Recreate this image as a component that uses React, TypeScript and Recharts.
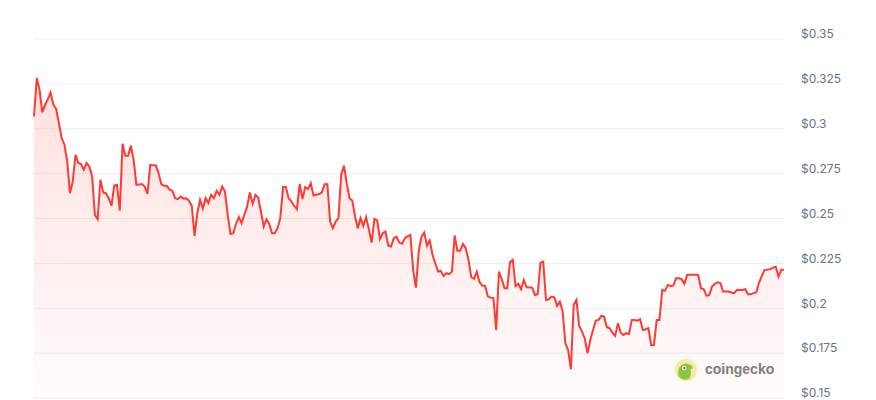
import { AreaChart, Area, XAxis, YAxis, CartesianGrid } from "recharts";

// daily closing price left to right
const prices = [
  0.3068, 0.3283, 0.3217, 0.3091, 0.3134, 0.3165, 0.3202, 0.3134, 0.3110, 0.3032,
  0.2948, 0.2911, 0.2818, 0.2641, 0.2706, 0.2855, 0.2809, 0.2803, 0.2771, 0.2809,
  0.2790, 0.2734, 0.2520, 0.2496, 0.2716, 0.2645, 0.2641, 0.2613, 0.2571, 0.2684,
  0.2688, 0.2544, 0.2916, 0.2849, 0.2849, 0.2905, 0.2827, 0.2688, 0.2690, 0.2692,
  0.2678, 0.2637, 0.2799, 0.2796, 0.2795,
  0.2753, 0.2691, 0.2682, 0.2682, 0.2660, 0.2654, 0.2613, 0.2608, 0.2622, 0.2610,
  0.2613, 0.2600, 0.2571, 0.2403, 0.2530, 0.2604, 0.2555, 0.2613, 0.2586, 0.2632,
  0.2613, 0.2654, 0.2632, 0.2678, 0.2650, 0.2520, 0.2414, 0.2418, 0.2469, 0.2508,
  0.2474, 0.2520, 0.2567, 0.2645, 0.2582, 0.2632, 0.2617, 0.2539, 0.2455, 0.2496,
  0.2470, 0.2418, 0.2418, 0.2446, 0.2502, 0.2675, 0.2675,
  0.2613, 0.2595, 0.2571, 0.2552, 0.2693, 0.2608, 0.2675, 0.2664, 0.2697, 0.2628,
  0.2632, 0.2636, 0.2645, 0.2691, 0.2691, 0.2483, 0.2446, 0.2483, 0.2502, 0.2743,
  0.2794, 0.2697, 0.2613, 0.2600, 0.2511, 0.2446, 0.2502, 0.2459, 0.2508, 0.2441,
  0.2366, 0.2498, 0.2489, 0.2385, 0.2418, 0.2427, 0.2348, 0.2344, 0.2390, 0.2399,
  0.2366, 0.2359,
  0.2390, 0.2400, 0.2409, 0.2214, 0.2115, 0.2316, 0.2399, 0.2422, 0.2348, 0.2377,
  0.2297, 0.2251, 0.2204, 0.2208, 0.2180, 0.2195, 0.2190, 0.2204, 0.2405, 0.2321,
  0.2321, 0.2359, 0.2335, 0.2269, 0.2173, 0.2164, 0.2204, 0.2145, 0.2126, 0.2124,
  0.2065, 0.2059, 0.2056, 0.1879, 0.2204, 0.2162, 0.2112, 0.2112, 0.2257, 0.2269,
  0.2124, 0.2136,
  0.2106, 0.2158, 0.2117, 0.2116, 0.2115, 0.2074, 0.2078, 0.2254, 0.2260, 0.2046,
  0.2050, 0.2065, 0.2061, 0.2013, 0.2037, 0.1985, 0.1805, 0.1768, 0.1660, 0.2019,
  0.2046, 0.1901, 0.1870, 0.1833, 0.1749, 0.1823, 0.1879, 0.1931, 0.1935, 0.1957,
  0.1953, 0.1894, 0.1889, 0.1864, 0.1846, 0.1916, 0.1864, 0.1851, 0.1861, 0.1857,
  0.1935, 0.1935, 0.1931, 0.1939, 0.1879, 0.1883, 0.1889, 0.1795, 0.1794, 0.1935,
  0.1935, 0.2102, 0.2097, 0.2130, 0.2124, 0.2126, 0.2167, 0.2167, 0.2162, 0.2136,
  0.2186, 0.2187, 0.2187, 0.2187, 0.2186, 0.2112, 0.2106, 0.2069, 0.2074, 0.2121,
  0.2136, 0.2145, 0.2140, 0.2093, 0.2093, 0.2093, 0.2088, 0.2084, 0.2102, 0.2102,
  0.2102, 0.2106, 0.2078, 0.2078, 0.2084, 0.2089, 0.2143, 0.2180, 0.2214, 0.2215,
  0.2218, 0.2225, 0.2232, 0.2176, 0.2214, 0.2214,
];

const priceTicks = [0.15, 0.175, 0.2, 0.225, 0.25, 0.275, 0.3, 0.325, 0.35];

const RED = "#ff3a33";

const chartData = prices.map((price, day) => ({ day, price }));

const PriceTick = ({ x, y, payload }: { x: number; y: number; payload: { value: number } }) => (
  <text
    x={x}
    y={y - 5}
    dy="0.355em"
    textAnchor="start"
    fill="#677489"
    fontSize={12}
    fontFamily="Inter, 'Noto Sans', sans-serif"
  >
    {`$${payload.value}`}
  </text>
);

function Watermark() {
  return (
    <svg
      width={120}
      height={30}
      style={{ position: "absolute", left: 672, top: 356, pointerEvents: "none" }}
    >
      <circle cx={14} cy={14} r={11} fill="#f7e9a6" />
      <path
        d="M6.5 20 C5.5 13 8 8 13.5 7.5 C17.5 7.2 20 9.5 21 12 L18.5 13.5 C19.5 16 19 19.5 17 23 C13 24.5 9 23.5 6.5 20 Z"
        fill="#8dc63f"
      />
      <circle cx={12} cy={12} r={2.2} fill="#ffffff" />
      <circle cx={12.5} cy={12} r={1.1} fill="#5a5a5a" />
      <text
        x={33}
        y={18}
        fill="#7d7d7d"
        fontSize={14}
        fontWeight={700}
        fontFamily="'Liberation Sans', Arial, sans-serif"
      >
        coingecko
      </text>
    </svg>
  );
}

export default function App() {
  return (
    <div style={{ position: "absolute", left: 0, top: 0, width: 876, height: 400, background: "#fff" }}>
      <AreaChart
        width={876}
        height={400}
        data={chartData}
        margin={{ top: 39, right: 0, bottom: 2, left: 34 }}
      >
        <defs>
          <linearGradient id="priceFill" x1="0" y1="0" x2="0" y2="1">
            <stop offset="0%" stopColor={RED} stopOpacity={0.26} />
            <stop offset="100%" stopColor={RED} stopOpacity={0.03} />
          </linearGradient>
        </defs>
        <CartesianGrid vertical={false} stroke="#eceef1" />
        <XAxis dataKey="day" hide />
        <YAxis
          orientation="right"
          width={92}
          domain={[0.15, 0.35]}
          ticks={priceTicks}
          axisLine={false}
          tickLine={false}
          tickSize={0}
          tickMargin={17}
          tick={PriceTick}
          interval={0}
        />
        <Area
          type="linear"
          dataKey="price"
          stroke={RED}
          strokeWidth={2}
          fill="url(#priceFill)"
          dot={false}
          activeDot={false}
          isAnimationActive={false}
        />
      </AreaChart>
      <Watermark />
    </div>
  );
}
